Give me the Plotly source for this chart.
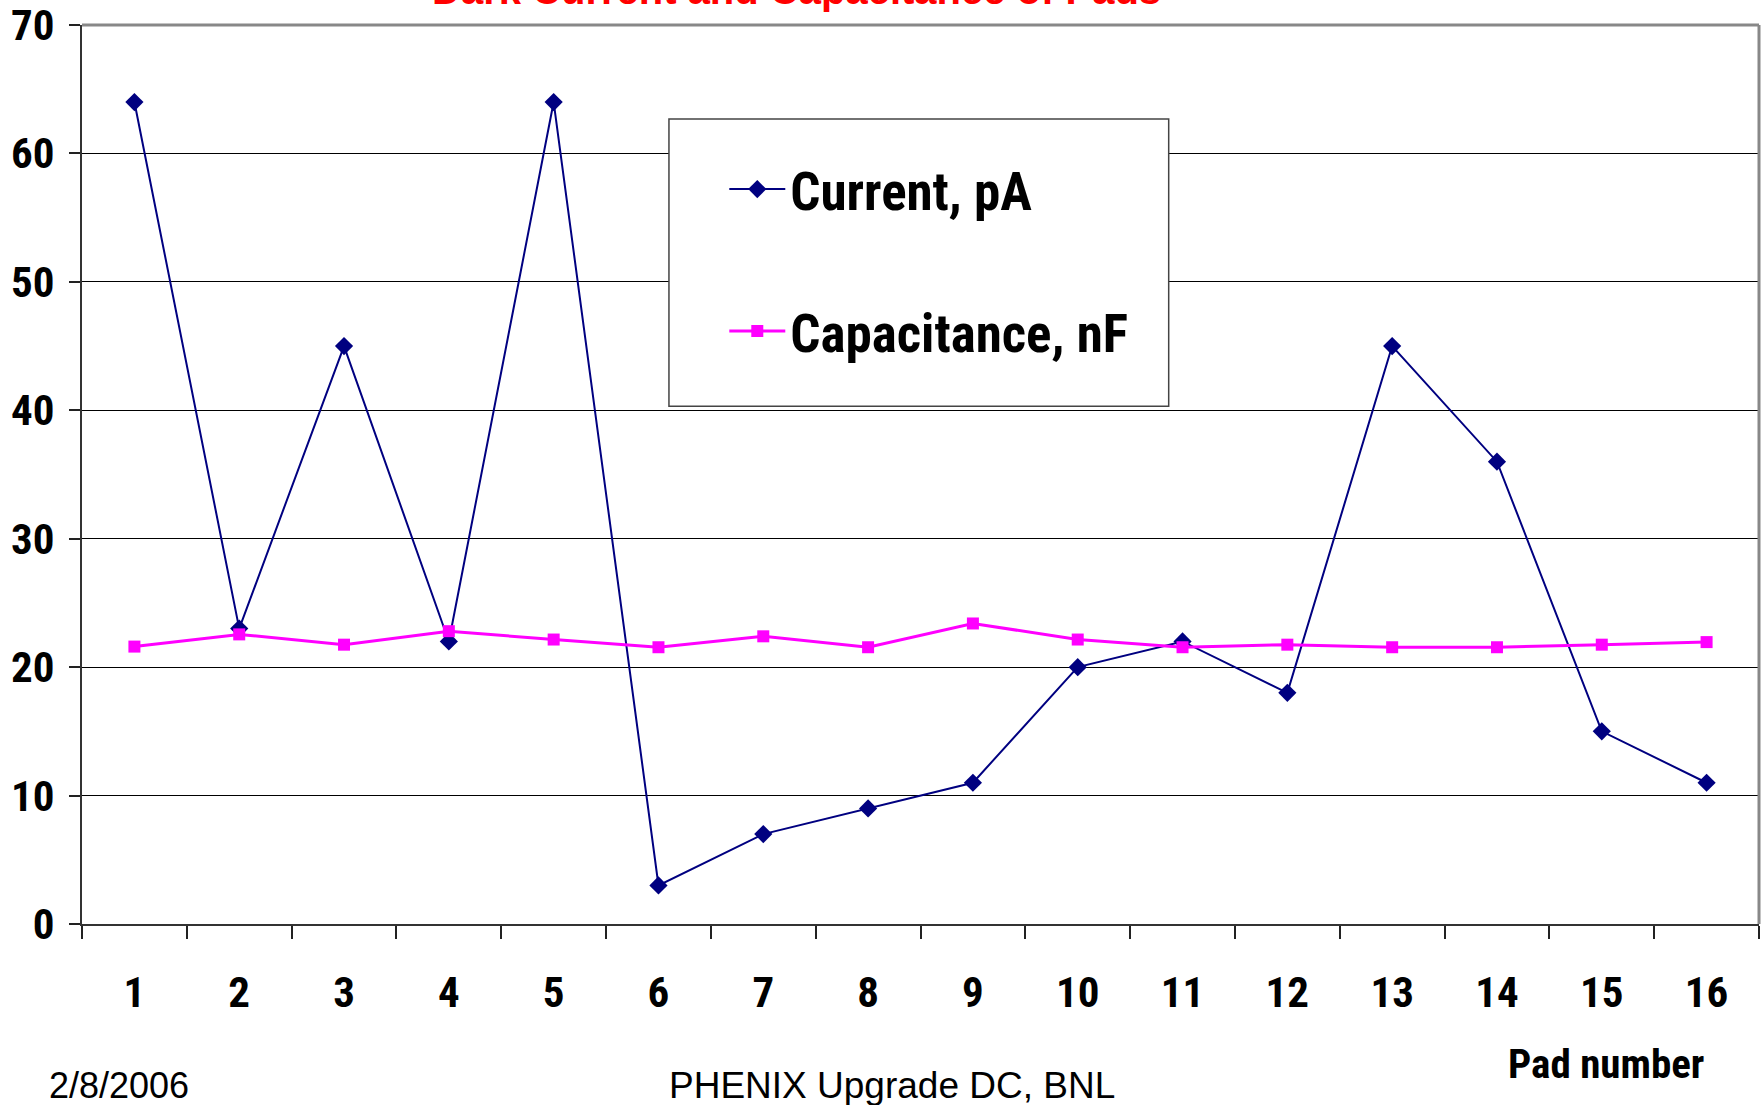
import plotly.graph_objects as go

pads = [str(i) for i in range(1, 17)]
current_pA = [64, 23, 45, 22, 64, 3, 7, 9, 11, 20, 22, 18, 45, 36, 15, 11]
capacitance_nF = [21.6, 22.55, 21.75, 22.8, 22.15, 21.55, 22.4, 21.55, 23.4, 22.15,
                  21.55, 21.75, 21.55, 21.55, 21.75, 21.95]
y_ticks = [0, 10, 20, 30, 40, 50, 60, 70]

NARROW = "Liberation Sans Narrow, Arial Narrow, Roboto Condensed, Liberation Sans, sans-serif"
REG = "Liberation Sans, Arial, sans-serif"

fig = go.Figure()
fig.add_trace(go.Scatter(
    x=pads, y=current_pA, name="Current, pA", mode="lines+markers",
    line=dict(color="#000080", width=2),
    marker=dict(symbol="diamond", size=14, color="#000080"),
    legendgroup="a",
))
fig.add_trace(go.Scatter(
    x=pads, y=capacitance_nF, name="Capacitance, nF", mode="lines+markers",
    line=dict(color="#FF00FF", width=3),
    marker=dict(symbol="square", size=12, color="#FF00FF"),
    legendgroup="b",
))

fig.update_layout(
    width=1763, height=1105,
    margin=dict(l=82, r=4, t=25, b=181, autoexpand=False),
    paper_bgcolor="white", plot_bgcolor="white",
    showlegend=True,
    legend=dict(
        x=0.383, y=0.863, xanchor="left", yanchor="top",
        bgcolor="rgba(0,0,0,0)", borderwidth=0,
        font=dict(family=NARROW, size=53, color="black", weight="bold"),
        traceorder="grouped", tracegroupgap=70, itemwidth=56,
    ),
    xaxis=dict(
        type="category", range=[-0.5, 15.5], automargin=False,
        tickson="boundaries", ticks="outside", ticklen=13, tickwidth=1.5, tickcolor="#222",
        showline=True, linecolor="#333", linewidth=2,
        showgrid=False, zeroline=False,
        tickfont=dict(family=NARROW, size=43, color="black", weight="bold"),
        ticklabelstandoff=29,
    ),
    yaxis=dict(
        range=[0, 70], tickvals=y_ticks, automargin=False,
        ticks="outside", ticklen=11, tickwidth=1.5, tickcolor="#222",
        showline=True, linecolor="#333", linewidth=2,
        showgrid=True, gridcolor="#000", gridwidth=1,
        zeroline=False,
        tickfont=dict(family=NARROW, size=43, color="black", weight="bold"),
        ticklabelstandoff=6,
    ),
    shapes=[
        dict(type="line", xref="paper", yref="paper", x0=0, x1=1, y0=1, y1=1,
             line=dict(color="#888", width=3), layer="above"),
        dict(type="line", xref="paper", yref="paper", x0=1, x1=1, y0=0, y1=1,
             line=dict(color="#888", width=3), layer="above"),
        dict(type="rect", xref="paper", yref="paper", x0=0.35, x1=0.648, y0=0.576, y1=0.8955,
             line=dict(color="#444", width=1.5), fillcolor="white", layer="above"),
    ],
    annotations=[
        dict(text="Dark Current and Capacitance of Pads", xref="paper", yref="paper",
             x=0.426, y=1.0393, xanchor="center", yanchor="middle", showarrow=False,
             font=dict(family=REG, size=40, color="#FF0000", weight="bold")),
        dict(text="Pad number", xref="paper", yref="paper",
             x=(1706 - 82) / 1677, y=(924 - 1064) / 899, xanchor="right", yanchor="middle",
             showarrow=False,
             font=dict(family=NARROW, size=41, color="black", weight="bold")),
        dict(text="2/8/2006", xref="paper", yref="paper",
             x=(47 - 82) / 1677, y=(924 - 1085) / 899, xanchor="left", yanchor="middle",
             showarrow=False, font=dict(family=REG, size=36, color="black")),
        dict(text="PHENIX Upgrade DC, BNL", xref="paper", yref="paper",
             x=(892 - 82) / 1677, y=(924 - 1085) / 899, xanchor="center", yanchor="middle",
             showarrow=False, font=dict(family=REG, size=37, color="black")),
    ],
)

fig.write_html("out.html")
